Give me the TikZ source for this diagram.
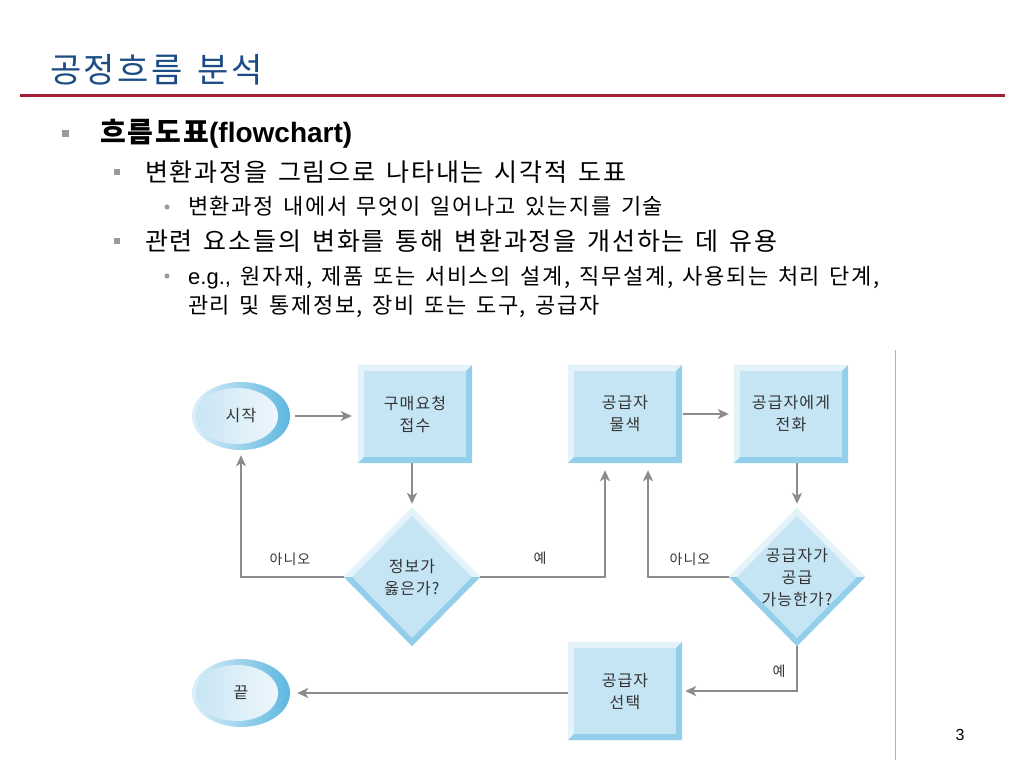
\documentclass[tikz,border=0pt]{standalone}
\usepackage{fontspec}
\setmainfont{Noto Sans CJK KR}[LetterSpace=7, WordSpace=1.5]
\newfontfamily\latin{Liberation Sans}
\usetikzlibrary{shapes.geometric,arrows.meta}
\definecolor{titleblue}{HTML}{1B4C85}
\definecolor{rulered}{HTML}{A31F34}
\definecolor{face}{HTML}{C6E5F4}
\definecolor{bevlt}{HTML}{E4F3FA}
\definecolor{bevdk}{HTML}{93CEEB}
\definecolor{ringdk}{HTML}{5DB7E0}
\definecolor{ringlt}{HTML}{DCEFF8}
\definecolor{innerlt}{HTML}{C7E5F4}
\definecolor{innerwh}{HTML}{F3F9FC}
\definecolor{conncol}{HTML}{8C8C8C}
\definecolor{txt}{HTML}{333333}
\definecolor{bulcol}{HTML}{9A9A9A}
\tikzset{
  procbox/.style={rectangle, minimum width=114pt, minimum height=98pt, inner sep=0pt,
    fill=face, align=center, font=\fontsize{16}{22}\selectfont, text=txt},
  decision/.style={diamond, minimum width=136pt, minimum height=138pt, inner sep=0pt,
    fill=face, align=center, font=\fontsize{16}{22}\selectfont, text=txt},
  terminal/.style={ellipse, minimum width=98pt, minimum height=68pt, inner sep=0pt,
    left color=ringlt, right color=ringdk, font=\fontsize{16}{22}\selectfont, text=txt,
    path picture={\shade[left color=innerlt, right color=innerwh]
      ([xshift=-4pt]path picture bounding box.center) ellipse [x radius=41pt, y radius=28pt];}},
  conn/.style={draw=conncol, line width=2pt, -{Stealth[length=11pt,width=10pt,inset=3pt]}},
  lbl/.style={font=\fontsize{14}{16}\selectfont, text=txt},
  sqbul/.style={fill=bulcol, inner sep=0pt, minimum size=#1, rectangle},
  dotbul/.style={fill=bulcol, inner sep=0pt, minimum size=5pt, circle},
  lone/.style={anchor=base west, inner sep=0pt, font=\fontsize{28}{30}\selectfont\bfseries},
  ltwo/.style={anchor=base west, inner sep=0pt, font=\fontsize{25}{28}\selectfont},
  lthree/.style={anchor=base west, inner sep=0pt, font=\fontsize{22}{29}\selectfont}
}
\begin{document}
\begin{tikzpicture}[x=1pt,y=-1pt]
\fill[white] (0,0) rectangle (1024,768);
\useasboundingbox (0,0) rectangle (1024,768);
% title
\node[anchor=base west, inner sep=0pt, text=titleblue, font=\fontsize{34}{36}\selectfont] (title) at (50,82) {공정흐름 분석};
\draw[rulered, line width=3pt] (20,95) -- (1005,95);
% bullets
\node[sqbul=7pt] (bu1) at (65,133) {};
\node[lone] (t1) at (100,142) {흐름도표{\latin\bfseries\fontsize{28}{30}\selectfont(flowchart)}};
\node[sqbul=6pt] (bu2) at (117,172) {};
\node[ltwo] (t2) at (145,181) {변환과정을 그림으로 나타내는 시각적 도표};
\node[dotbul] (bu3) at (167,207) {};
\node[lthree] (t3) at (188,214) {변환과정 내에서 무엇이 일어나고 있는지를 기술};
\node[sqbul=6pt] (bu4) at (117,241) {};
\node[ltwo] (t4) at (145,250) {관련 요소들의 변화를 통해 변환과정을 개선하는 데 유용};
\node[dotbul] (bu5) at (167,276) {};
\node[lthree] (t5) at (188,284) {{\latin e.g.,} 원자재, 제품 또는 서비스의 설계, 직무설계, 사용되는 처리 단계,};
\node[lthree] (t6) at (188,313) {관리 및 통제정보, 장비 또는 도구, 공급자};
% separator and page number
\draw[black!30, line width=1pt] (895,350) -- (895,760);
\node[font=\latin\fontsize{16}{18}\selectfont] (pg) at (960,735) {3};
% flowchart nodes
\node[terminal] (s) at (241,416) {시작};
\node[procbox] (b1) at (415,414) {구매요청\\접수};
\node[procbox] (b2) at (625,414) {공급자\\물색};
\node[procbox] (b3) at (791,414) {공급자에게\\전화};
\node[decision] (d1) at (412,577) {정보가\\옳은가?};
\node[decision] (d2) at (797,577) {공급자가\\공급\\가능한가?};
\node[procbox] (b4) at (625,691) {공급자\\선택};
\node[terminal] (e) at (241,693) {끝};
% bevels
\foreach \n in {b1,b2,b3,b4}{
  \fill[bevlt] (\n.north west) -- (\n.north east) -- ([shift={(-6pt,-6pt)}]\n.north east) -- ([shift={(6pt,-6pt)}]\n.north west) -- cycle;
  \fill[bevlt] (\n.north west) -- (\n.south west) -- ([shift={(6pt,6pt)}]\n.south west) -- ([shift={(6pt,-6pt)}]\n.north west) -- cycle;
  \fill[bevdk] (\n.south west) -- (\n.south east) -- ([shift={(-6pt,6pt)}]\n.south east) -- ([shift={(6pt,6pt)}]\n.south west) -- cycle;
  \fill[bevdk] (\n.north east) -- (\n.south east) -- ([shift={(-6pt,6pt)}]\n.south east) -- ([shift={(-6pt,-6pt)}]\n.north east) -- cycle;
}
\foreach \n in {d1,d2}{
  \fill[bevlt] (\n.west) -- (\n.north) -- ([yshift=-8pt]\n.north) -- ([xshift=8pt]\n.west) -- cycle;
  \fill[bevlt] (\n.north) -- (\n.east) -- ([xshift=-8pt]\n.east) -- ([yshift=-8pt]\n.north) -- cycle;
  \fill[bevdk] (\n.east) -- (\n.south) -- ([yshift=8pt]\n.south) -- ([xshift=-8pt]\n.east) -- cycle;
  \fill[bevdk] (\n.south) -- (\n.west) -- ([xshift=8pt]\n.west) -- ([yshift=8pt]\n.south) -- cycle;
}
% connectors
\draw[conn, shorten <=5pt, shorten >=6pt] (s.east) -- (s.east -| b1.west);
\draw[conn, shorten >=4pt] (b1.south -| d1.north) -- (d1.north);
\draw[conn, shorten >=5pt] (d1.west) -| (s.south);
\draw[conn, shorten >=7pt] (d1.east) -| ([xshift=-20pt]b2.south);
\draw[conn, shorten >=7pt] (d2.west) -| ([xshift=23pt]b2.south);
\draw[conn, shorten <=1pt, shorten >=5pt] (b2.east) -- (b3.west);
\draw[conn, shorten >=4pt] (d2.north |- b3.south) -- (d2.north);
\draw[conn, shorten >=3pt] (d2.south) |- (b4.east);
\draw[conn, shorten >=7pt] (b4.west |- e.east) -- (e.east);
% labels
\node[lbl] (n1) at (290,559) {아니오};
\node[lbl] (y1) at (540,558) {예};
\node[lbl] (n2) at (690,559) {아니오};
\node[lbl] (y2) at (779,671) {예};
\end{tikzpicture}
\end{document}
